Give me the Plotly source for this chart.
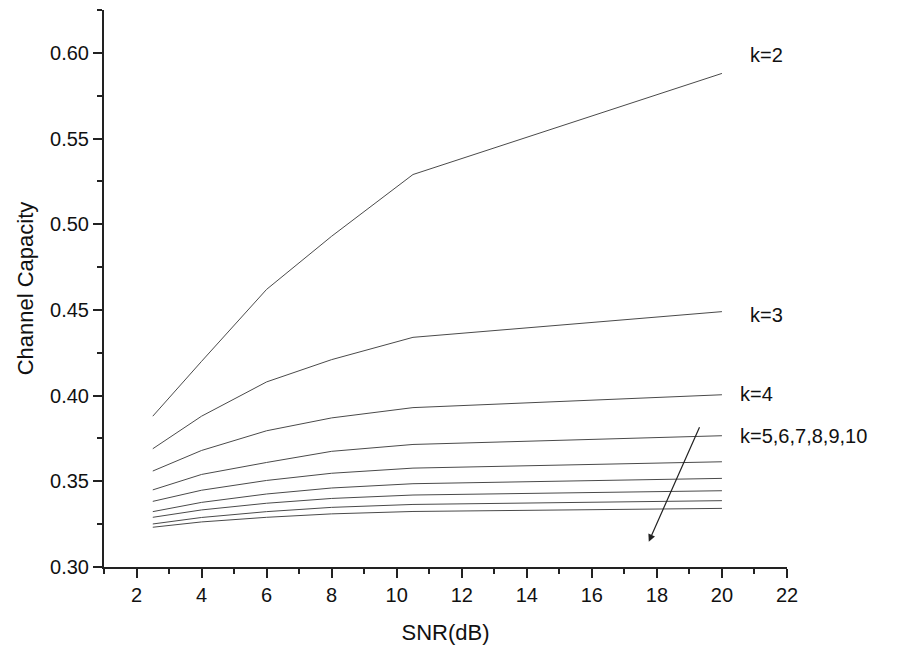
import plotly.graph_objects as go

snr = [2.5, 4, 6, 8, 10.5, 20]
k_labels = ["k=2", "k=3", "k=4", "k=5", "k=6", "k=7", "k=8", "k=9", "k=10"]
cap_k2 = [0.388, 0.420, 0.462, 0.493, 0.529, 0.588]
cap_k3 = [0.369, 0.388, 0.408, 0.421, 0.434, 0.449]
cap_k4 = [0.356, 0.368, 0.3795, 0.387, 0.393, 0.4005]
cap_k5 = [0.345, 0.354, 0.361, 0.3675, 0.3715, 0.3766]
cap_k6 = [0.3383, 0.3448, 0.3505, 0.3547, 0.3577, 0.3614]
cap_k7 = [0.3323, 0.3377, 0.3426, 0.3461, 0.3486, 0.3517]
cap_k8 = [0.329, 0.3333, 0.3372, 0.340, 0.342, 0.3445]
cap_k9 = [0.3251, 0.3289, 0.3323, 0.3348, 0.3365, 0.3387]
cap_k10 = [0.3232, 0.3263, 0.329, 0.331, 0.3324, 0.3342]
series = [cap_k2, cap_k3, cap_k4, cap_k5, cap_k6, cap_k7, cap_k8, cap_k9, cap_k10]

x_ticks = [2, 4, 6, 8, 10, 12, 14, 16, 18, 20, 22]
y_ticks = [0.30, 0.35, 0.40, 0.45, 0.50, 0.55, 0.60]

FONT = "Liberation Sans, Arial, sans-serif"

fig = go.Figure()
for name, ys in zip(k_labels, series):
    fig.add_trace(go.Scatter(x=snr, y=ys, mode="lines", name=name,
                             line=dict(color="#4a4a4a", width=1), showlegend=False))

# labels
lab_font = dict(size=20, color="#111", family=FONT)
fig.add_annotation(x=20.8, y=0.599, text="k=2", showarrow=False, xanchor="left", font=lab_font)
fig.add_annotation(x=20.8, y=0.447, text="k=3", showarrow=False, xanchor="left", font=lab_font)
fig.add_annotation(x=20.5, y=0.4008, text="k=4", showarrow=False, xanchor="left", font=lab_font)
fig.add_annotation(x=20.5, y=0.3766, text="k=5,6,7,8,9,10", showarrow=False, xanchor="left",
                   font=lab_font)
# arrow
fig.add_annotation(x=17.75, y=0.3148, ax=19.33, ay=0.3824, axref="x", ayref="y",
                   xref="x", yref="y", text="", showarrow=True, arrowhead=2,
                   arrowsize=1.2, arrowwidth=1.2, arrowcolor="#222")

fig.update_layout(
    width=903, height=657,
    margin=dict(l=104, r=116, t=10, b=90),
    plot_bgcolor="white", paper_bgcolor="white",
    font=dict(family=FONT, size=20, color="#111"),
)
fig.update_xaxes(range=[1, 22], tickvals=x_ticks, ticks="outside", ticklen=9, tickwidth=1.5,
                 showline=True, linecolor="#222", linewidth=2, showgrid=False, zeroline=False,
                 minor=dict(dtick=1, ticks="outside", ticklen=5, tickwidth=1.5, tickcolor="#222"),
                 tickcolor="#222", title=dict(text="SNR(dB)", font=dict(size=22), standoff=20),
                 tickfont=dict(size=20))
fig.update_yaxes(range=[0.30, 0.625], tickvals=y_ticks, tickformat=".2f", ticks="outside",
                 ticklen=9, tickwidth=1.5, showline=True, linecolor="#222", linewidth=2,
                 showgrid=False, zeroline=False,
                 minor=dict(dtick=0.025, ticks="outside", ticklen=5, tickwidth=1.5, tickcolor="#222"),
                 tickcolor="#222", title=dict(text="Channel Capacity", font=dict(size=22), standoff=10),
                 tickfont=dict(size=20))

fig.write_html("out.html")
